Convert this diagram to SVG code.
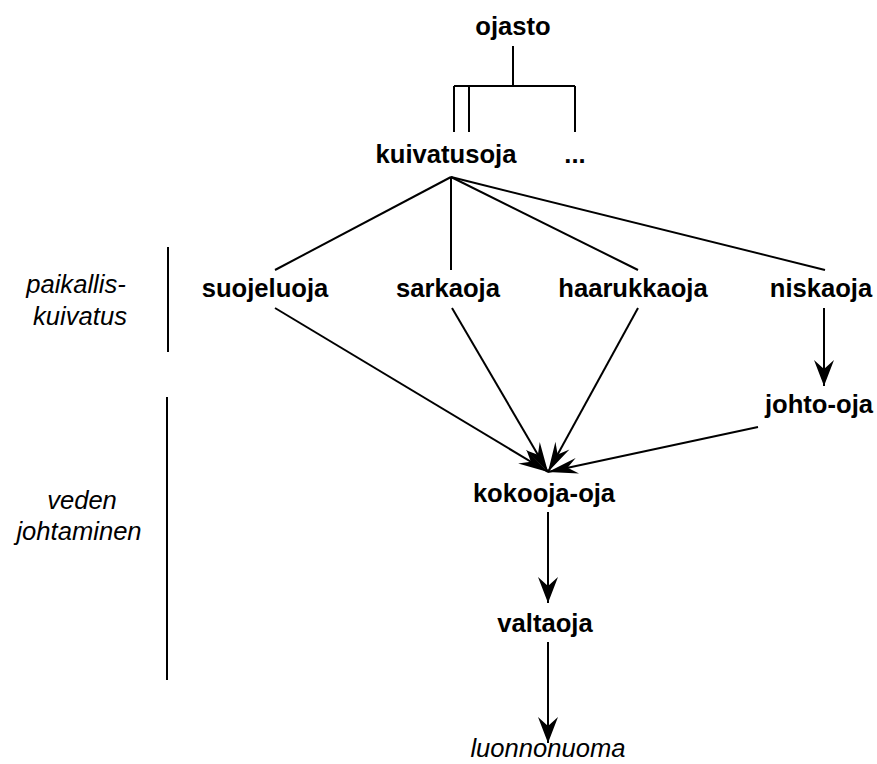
<svg xmlns="http://www.w3.org/2000/svg" width="877" height="764" viewBox="0 0 877 764">
<style>
  text { font-family: "Liberation Sans", Arial, sans-serif; font-size: 25.6px; fill: #000; text-anchor: middle; }
  .b { font-weight: bold; }
  .i { font-style: italic; }
  .ln { stroke: #000; stroke-width: 2; fill: none; }
</style>
<defs>
  <marker id="ah" viewBox="-27 -11 28 22" markerWidth="28" markerHeight="22" refX="0" refY="0" orient="auto" markerUnits="userSpaceOnUse">
    <path d="M0,0 L-26,-10 L-17,0 L-26,10 Z" fill="#000"/>
  </marker>
  <marker id="ahn" viewBox="-31 -9 32 18" markerWidth="32" markerHeight="18" refX="0" refY="0" orient="auto" markerUnits="userSpaceOnUse">
    <path d="M0,0 L-30,-8 L-20,0 L-30,8 Z" fill="#000"/>
  </marker>
</defs>
<rect width="877" height="764" fill="#fff"/>

<g id="labels">
  <text class="i" x="76" y="293">paikallis-</text>
  <text class="i" x="80" y="325">kuivatus</text>
  <text class="i" x="82" y="509">veden</text>
  <text class="i" x="79" y="540">johtaminen</text>
  <line class="ln" x1="168" y1="247" x2="168" y2="352"/>
  <line class="ln" x1="167" y1="397" x2="167" y2="680"/>
</g>

<g id="connectors">
  <path class="ln" d="M513,46 V86 M454,86 H575 M454,86 V132 M469,86 V132 M575,86 V132"/>
  <line class="ln" x1="451" y1="177" x2="275" y2="270"/>
  <line class="ln" x1="451" y1="177" x2="451" y2="270"/>
  <line class="ln" x1="451" y1="177" x2="638" y2="270"/>
  <line class="ln" x1="451" y1="177" x2="825" y2="270"/>
  <line class="ln" x1="275" y1="308" x2="548" y2="472" marker-end="url(#ahn)"/>
  <line class="ln" x1="452" y1="308" x2="548" y2="472" marker-end="url(#ahn)"/>
  <line class="ln" x1="638" y1="308" x2="548" y2="472" marker-end="url(#ahn)"/>
  <line class="ln" x1="758" y1="427" x2="548" y2="472" marker-end="url(#ahn)"/>
  <line class="ln" x1="824" y1="308" x2="824" y2="386" marker-end="url(#ah)"/>
  <line class="ln" x1="548" y1="512" x2="548" y2="603" marker-end="url(#ah)"/>
  <line class="ln" x1="548" y1="642" x2="548" y2="743" marker-end="url(#ah)"/>
</g>

<g id="ojasto"><text class="b" x="513" y="35">ojasto</text></g>
<g id="kuivatusoja"><text class="b" x="446" y="163">kuivatusoja</text></g>
<g id="muut"><text class="b" x="575" y="163">...</text></g>
<g id="suojeluoja"><text class="b" x="265" y="297">suojeluoja</text></g>
<g id="sarkaoja"><text class="b" x="448" y="297">sarkaoja</text></g>
<g id="haarukkaoja"><text class="b" x="633" y="297">haarukkaoja</text></g>
<g id="niskaoja"><text class="b" x="821" y="297">niskaoja</text></g>
<g id="johto-oja"><text class="b" x="819" y="413">johto-oja</text></g>
<g id="kokooja-oja"><text class="b" x="544" y="502">kokooja-oja</text></g>
<g id="valtaoja"><text class="b" x="545" y="632">valtaoja</text></g>
<g id="luonnonuoma"><text class="i" x="548" y="757">luonnonuoma</text></g>
</svg>
